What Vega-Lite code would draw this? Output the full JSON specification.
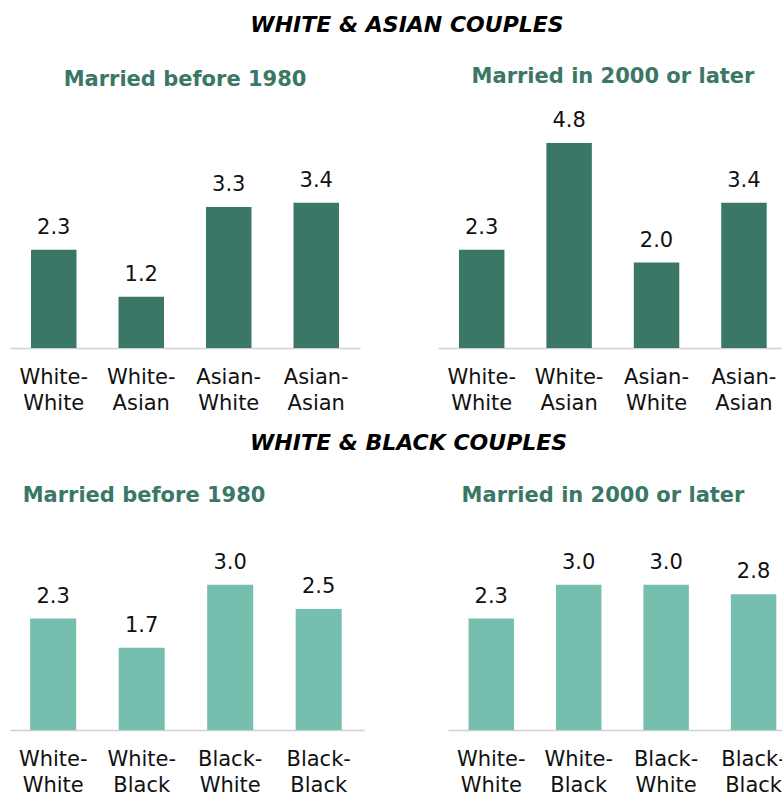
{
  "$schema": "https://vega.github.io/schema/vega-lite/v6.json",
  "padding": {"left": 10, "top": 13, "right": 0, "bottom": 0},
  "config": {
    "font": "DejaVu Sans",
    "view": {"stroke": null},
    "title": {"fontSize": 21, "fontWeight": "bold", "color": "#3b7767", "font": "DejaVu Sans"},
    "text": {"fontSize": 21, "color": "#111111", "baseline": "alphabetic", "dy": -16},
    "axisX": {
      "title": null, "labelAngle": 0, "ticks": false, "domainColor": "#d0d0d0", "domainWidth": 1.5,
      "labelFontSize": 21, "labelColor": "#111111", "labelPadding": 18, "labelLineHeight": 26,
      "labelExpr": "[split(datum.value,'-')[0] + '-', split(datum.value,'-')[1]]"
    }
  },
  "vconcat": [
    {
      "title": {"text": "WHITE & ASIAN COUPLES", "fontSize": 22, "fontStyle": "italic", "color": "#000000", "anchor": "middle", "dx": 11, "offset": 29},
      "spacing": 78,
      "hconcat": [
        {
          "width": 350, "height": 235,
          "title": {"text": "Married before 1980", "offset": 23},
          "data": {"values": [
            {"couple": "White-White", "rate": 2.3},
            {"couple": "White-Asian", "rate": 1.2},
            {"couple": "Asian-White", "rate": 3.3},
            {"couple": "Asian-Asian", "rate": 3.4}
          ]},
          "encoding": {
            "x": {"field": "couple", "type": "nominal", "sort": null, "scale": {"paddingInner": 0.48, "paddingOuter": 0.24}},
            "y": {"field": "rate", "type": "quantitative", "scale": {"domain": [0, 5.5]}, "axis": null}
          },
          "layer": [
            {"mark": {"type": "bar", "color": "#3b7767"}},
            {"mark": {"type": "text"}, "encoding": {"text": {"field": "rate", "format": ".1f"}}}
          ]
        },
        {
          "width": 344, "height": 235,
          "title": {"text": "Married in 2000 or later", "offset": 23, "dx": 3},
          "data": {"values": [
            {"couple": "White-White", "rate": 2.3},
            {"couple": "White-Asian", "rate": 4.8},
            {"couple": "Asian-White", "rate": 2.0},
            {"couple": "Asian-Asian", "rate": 3.4}
          ]},
          "encoding": {
            "x": {"field": "couple", "type": "nominal", "sort": null, "scale": {"paddingInner": 0.48, "paddingOuter": 0.2075, "align": 0.578}},
            "y": {"field": "rate", "type": "quantitative", "scale": {"domain": [0, 5.5]}, "axis": null}
          },
          "layer": [
            {"mark": {"type": "bar", "color": "#3b7767"}},
            {"mark": {"type": "text"}, "encoding": {"text": {"field": "rate", "format": ".1f"}}}
          ]
        }
      ]
    },
    {
      "title": {"text": "WHITE & BLACK COUPLES", "fontSize": 22, "fontStyle": "italic", "color": "#000000", "anchor": "middle", "dx": 11, "offset": 30},
      "spacing": 84,
      "hconcat": [
        {
          "width": 354, "height": 218,
          "title": {"text": "Married before 1980", "offset": 6, "dx": -43},
          "data": {"values": [
            {"couple": "White-White", "rate": 2.3},
            {"couple": "White-Black", "rate": 1.7},
            {"couple": "Black-White", "rate": 3.0},
            {"couple": "Black-Black", "rate": 2.5}
          ]},
          "encoding": {
            "x": {"field": "couple", "type": "nominal", "sort": null, "scale": {"paddingInner": 0.48, "paddingOuter": 0.24, "align": 0.475}},
            "y": {"field": "rate", "type": "quantitative", "scale": {"domain": [0, 4.5]}, "axis": null}
          },
          "layer": [
            {"mark": {"type": "bar", "color": "#76bead"}},
            {"mark": {"type": "text"}, "encoding": {"text": {"field": "rate", "format": ".1f"}}}
          ]
        },
        {
          "width": 334, "height": 218,
          "title": {"text": "Married in 2000 or later", "offset": 6, "dx": -12},
          "data": {"values": [
            {"couple": "White-White", "rate": 2.3},
            {"couple": "White-Black", "rate": 3.0},
            {"couple": "Black-White", "rate": 3.0},
            {"couple": "Black-Black", "rate": 2.8}
          ]},
          "encoding": {
            "x": {"field": "couple", "type": "nominal", "sort": null, "scale": {"paddingInner": 0.48, "paddingOuter": 0.15, "align": 0.783}},
            "y": {"field": "rate", "type": "quantitative", "scale": {"domain": [0, 4.5]}, "axis": null}
          },
          "layer": [
            {"mark": {"type": "bar", "color": "#76bead"}},
            {"mark": {"type": "text"}, "encoding": {"text": {"field": "rate", "format": ".1f"}}}
          ]
        }
      ]
    }
  ],
  "spacing": 19
}
